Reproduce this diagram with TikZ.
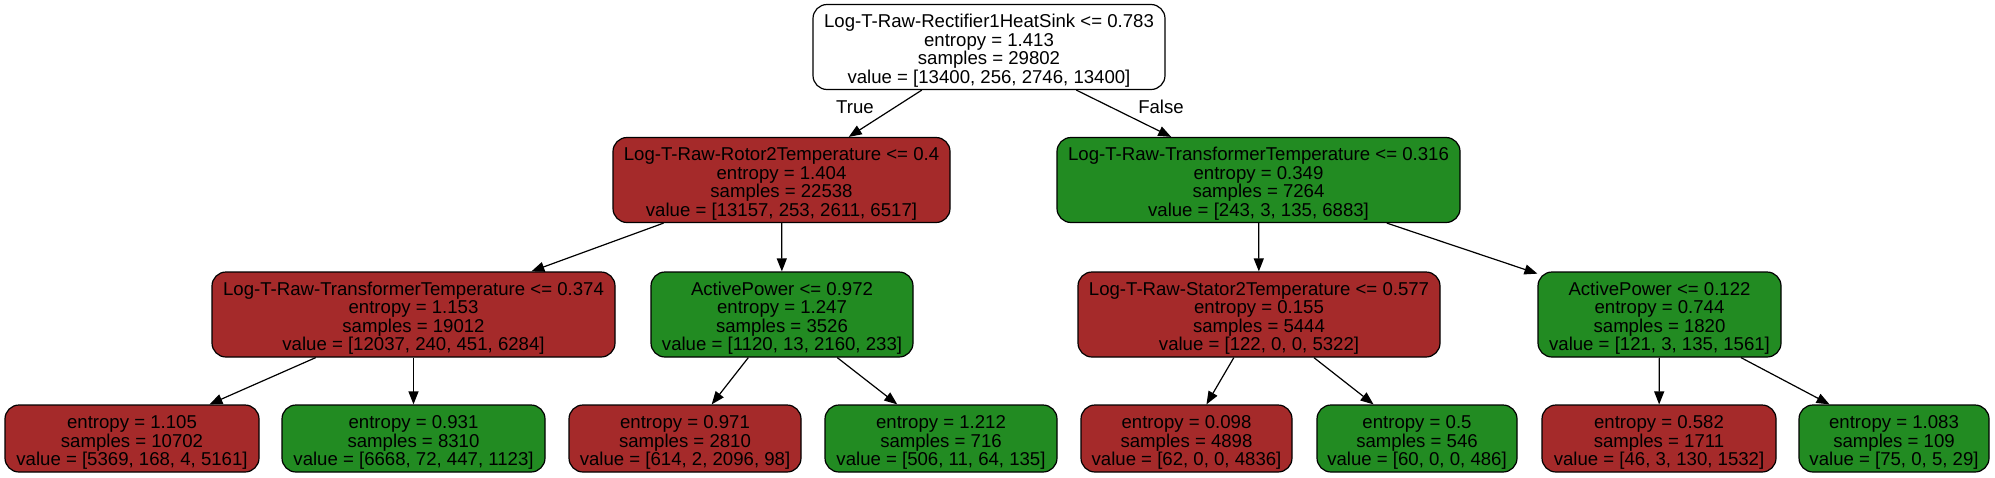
\documentclass[tikz,border=0pt]{standalone}
\usepackage{fontspec}
\setmainfont{Liberation Sans}
\usetikzlibrary{arrows.meta}
\definecolor{treered}{RGB}{165,42,42}
\definecolor{treegreen}{RGB}{34,139,34}
\newcommand\mytopstrut{\rule{0pt}{10.5pt}}
\begin{document}
\begin{tikzpicture}[x=0.5pt,y=-0.5pt,
  tnode/.style={draw=black, line width=0.6pt, rounded corners=7pt, align=center,
    inner sep=0pt, font=\fontsize{9.3}{9.3}\selectfont},
  splitbox/.style={tnode, minimum height=42.5pt},
  leafbox/.style={tnode, minimum height=33.5pt},
  redbox/.style={fill=treered},
  greenbox/.style={fill=treegreen},
  treeedge/.style={-{Triangle[length=6.5pt,width=5pt]}, line width=0.6pt},
  edgelabel/.style={font=\fontsize{9.3}{9.3}\selectfont, inner sep=0pt}]
\useasboundingbox (0,0) rectangle (1995,477);
% root
\node[splitbox, fill=white, minimum width=176pt] (n0) at (989,47)
  {\mytopstrut Log-T-Raw-Rectifier1HeatSink <= 0.783\\entropy = 1.413\\samples = 29802\\value = [13400, 256, 2746, 13400]};
% level 1
\node[splitbox, redbox, minimum width=168.5pt] (n1) at (781.5,180)
  {\mytopstrut Log-T-Raw-Rotor2Temperature <= 0.4\\entropy = 1.404\\samples = 22538\\value = [13157, 253, 2611, 6517]};
\node[splitbox, greenbox, minimum width=201.5pt] (n8) at (1258.5,180)
  {\mytopstrut Log-T-Raw-TransformerTemperature <= 0.316\\entropy = 0.349\\samples = 7264\\value = [243, 3, 135, 6883]};
% level 2
\node[splitbox, redbox, minimum width=201.5pt] (n2) at (413.5,314.5)
  {\mytopstrut Log-T-Raw-TransformerTemperature <= 0.374\\entropy = 1.153\\samples = 19012\\value = [12037, 240, 451, 6284]};
\node[splitbox, greenbox, minimum width=131pt] (n5) at (782,314.5)
  {\mytopstrut ActivePower <= 0.972\\entropy = 1.247\\samples = 3526\\value = [1120, 13, 2160, 233]};
\node[splitbox, redbox, minimum width=181pt] (n9) at (1259,314.5)
  {\mytopstrut Log-T-Raw-Stator2Temperature <= 0.577\\entropy = 0.155\\samples = 5444\\value = [122, 0, 0, 5322]};
\node[splitbox, greenbox, minimum width=121.5pt] (n12) at (1659.5,314.5)
  {\mytopstrut ActivePower <= 0.122\\entropy = 0.744\\samples = 1820\\value = [121, 3, 135, 1561]};
% leaves
\node[leafbox, redbox, minimum width=127pt] (n3) at (132,438.5)
  {\mytopstrut entropy = 1.105\\samples = 10702\\value = [5369, 168, 4, 5161]};
\node[leafbox, greenbox, minimum width=131.5pt] (n4) at (413.5,438.5)
  {\mytopstrut entropy = 0.931\\samples = 8310\\value = [6668, 72, 447, 1123]};
\node[leafbox, redbox, minimum width=116pt] (n6) at (685,438.5)
  {\mytopstrut entropy = 0.971\\samples = 2810\\value = [614, 2, 2096, 98]};
\node[leafbox, greenbox, minimum width=116pt] (n7) at (941,438.5)
  {\mytopstrut entropy = 1.212\\samples = 716\\value = [506, 11, 64, 135]};
\node[leafbox, redbox, minimum width=105.5pt] (n10) at (1186.5,438.5)
  {\mytopstrut entropy = 0.098\\samples = 4898\\value = [62, 0, 0, 4836]};
\node[leafbox, greenbox, minimum width=100pt] (n11) at (1417,438.5)
  {\mytopstrut entropy = 0.5\\samples = 546\\value = [60, 0, 0, 486]};
\node[leafbox, redbox, minimum width=117pt] (n13) at (1659,438.5)
  {\mytopstrut entropy = 0.582\\samples = 1711\\value = [46, 3, 130, 1532]};
\node[leafbox, greenbox, minimum width=95pt] (n14) at (1894,438.5)
  {\mytopstrut entropy = 1.083\\samples = 109\\value = [75, 0, 5, 29]};
% edges
\draw[treeedge] (n0) -- (n1);
\draw[treeedge] (n0) -- (n8);
\draw[treeedge] (n1) -- (n2);
\draw[treeedge] (n1) -- (n5);
\draw[treeedge] (n2) -- (n3);
\draw[treeedge] (n2) -- (n4);
\draw[treeedge] (n5) -- (n6);
\draw[treeedge] (n5) -- (n7);
\draw[treeedge] (n8) -- (n9);
\draw[treeedge] (n8) -- (n12);
\draw[treeedge] (n9) -- (n10);
\draw[treeedge] (n9) -- (n11);
\draw[treeedge] (n12) -- (n13);
\draw[treeedge] (n12) -- (n14);
% edge labels
\node[edgelabel] (ltrue) at (855,107) {True};
\node[edgelabel] (lfalse) at (1161,107) {False};
\end{tikzpicture}
\end{document}
